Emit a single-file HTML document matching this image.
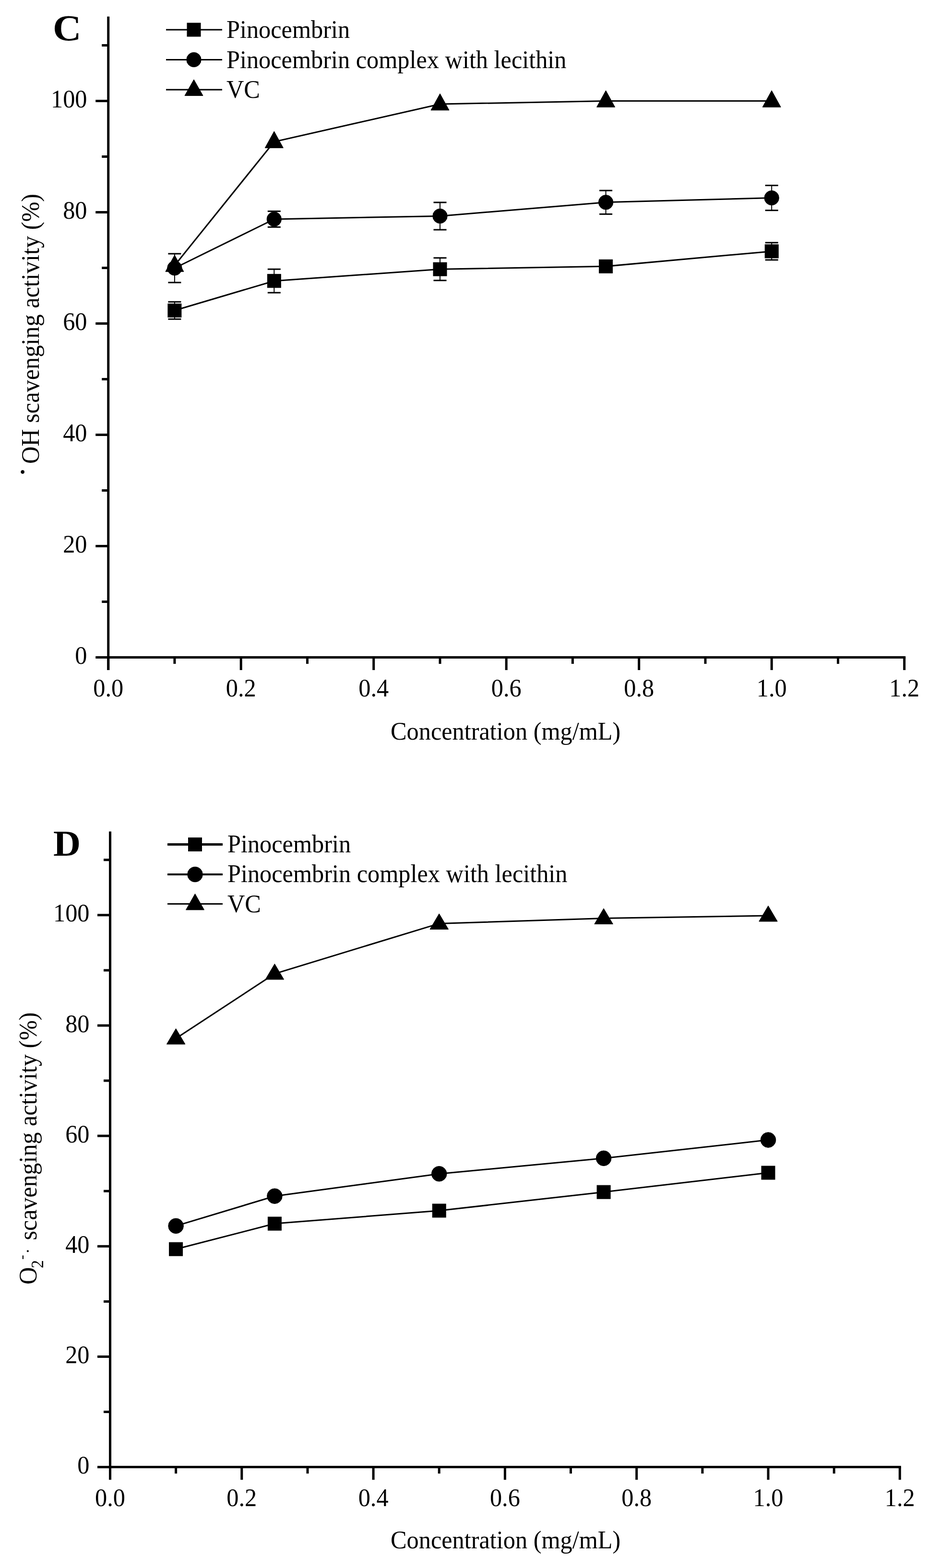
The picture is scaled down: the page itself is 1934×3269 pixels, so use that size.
<!DOCTYPE html>
<html><head><meta charset="utf-8"><title>Scavenging activity charts</title>
<style>
html,body{margin:0;padding:0;background:#fff;}
svg{display:block;}
text{font-family:'Liberation Serif', 'Times New Roman', serif;fill:#000;stroke:none;}
</style></head>
<body>
<svg width="1934" height="3269" viewBox="0 0 1934 3269">
<rect width="1934" height="3269" fill="#fff"/>
<g stroke="#000" fill="#000">
<line x1="225.7" y1="34.5" x2="225.7" y2="1397.0" stroke-width="5"/>
<line x1="223.2" y1="1370.5" x2="1887.2" y2="1370.5" stroke-width="5"/>
<line x1="199.2" y1="1370.5" x2="225.7" y2="1370.5" stroke-width="5"/>
<text transform="translate(181.5,1383.5) scale(0.968,1)" text-anchor="end" font-size="52" font-weight="normal">0</text>
<line x1="212.2" y1="1254.5" x2="225.7" y2="1254.5" stroke-width="5"/>
<line x1="199.2" y1="1138.5" x2="225.7" y2="1138.5" stroke-width="5"/>
<text transform="translate(181.5,1151.5) scale(0.968,1)" text-anchor="end" font-size="52" font-weight="normal">20</text>
<line x1="212.2" y1="1022.5" x2="225.7" y2="1022.5" stroke-width="5"/>
<line x1="199.2" y1="906.5" x2="225.7" y2="906.5" stroke-width="5"/>
<text transform="translate(181.5,919.5) scale(0.968,1)" text-anchor="end" font-size="52" font-weight="normal">40</text>
<line x1="212.2" y1="790.5" x2="225.7" y2="790.5" stroke-width="5"/>
<line x1="199.2" y1="674.5" x2="225.7" y2="674.5" stroke-width="5"/>
<text transform="translate(181.5,687.5) scale(0.968,1)" text-anchor="end" font-size="52" font-weight="normal">60</text>
<line x1="212.2" y1="558.5" x2="225.7" y2="558.5" stroke-width="5"/>
<line x1="199.2" y1="442.5" x2="225.7" y2="442.5" stroke-width="5"/>
<text transform="translate(181.5,455.5) scale(0.968,1)" text-anchor="end" font-size="52" font-weight="normal">80</text>
<line x1="212.2" y1="326.5" x2="225.7" y2="326.5" stroke-width="5"/>
<line x1="199.2" y1="210.5" x2="225.7" y2="210.5" stroke-width="5"/>
<text transform="translate(181.5,223.5) scale(0.968,1)" text-anchor="end" font-size="52" font-weight="normal">100</text>
<line x1="212.2" y1="94.5" x2="225.7" y2="94.5" stroke-width="5"/>
<line x1="225.7" y1="1370.5" x2="225.7" y2="1397.0" stroke-width="5"/>
<text transform="translate(225.7,1452.0) scale(0.968,1)" text-anchor="middle" font-size="52" font-weight="normal">0.0</text>
<line x1="363.9" y1="1370.5" x2="363.9" y2="1384.0" stroke-width="5"/>
<line x1="502.2" y1="1370.5" x2="502.2" y2="1397.0" stroke-width="5"/>
<text transform="translate(502.2,1452.0) scale(0.968,1)" text-anchor="middle" font-size="52" font-weight="normal">0.2</text>
<line x1="640.5" y1="1370.5" x2="640.5" y2="1384.0" stroke-width="5"/>
<line x1="778.7" y1="1370.5" x2="778.7" y2="1397.0" stroke-width="5"/>
<text transform="translate(778.7,1452.0) scale(0.968,1)" text-anchor="middle" font-size="52" font-weight="normal">0.4</text>
<line x1="917.0" y1="1370.5" x2="917.0" y2="1384.0" stroke-width="5"/>
<line x1="1055.2" y1="1370.5" x2="1055.2" y2="1397.0" stroke-width="5"/>
<text transform="translate(1055.2,1452.0) scale(0.968,1)" text-anchor="middle" font-size="52" font-weight="normal">0.6</text>
<line x1="1193.4" y1="1370.5" x2="1193.4" y2="1384.0" stroke-width="5"/>
<line x1="1331.7" y1="1370.5" x2="1331.7" y2="1397.0" stroke-width="5"/>
<text transform="translate(1331.7,1452.0) scale(0.968,1)" text-anchor="middle" font-size="52" font-weight="normal">0.8</text>
<line x1="1470.0" y1="1370.5" x2="1470.0" y2="1384.0" stroke-width="5"/>
<line x1="1608.2" y1="1370.5" x2="1608.2" y2="1397.0" stroke-width="5"/>
<text transform="translate(1608.2,1452.0) scale(0.968,1)" text-anchor="middle" font-size="52" font-weight="normal">1.0</text>
<line x1="1746.5" y1="1370.5" x2="1746.5" y2="1384.0" stroke-width="5"/>
<line x1="1884.7" y1="1370.5" x2="1884.7" y2="1397.0" stroke-width="5"/>
<text transform="translate(1884.7,1452.0) scale(0.968,1)" text-anchor="middle" font-size="52" font-weight="normal">1.2</text>
<text transform="translate(814.0,1542.0) scale(0.968,1)" text-anchor="start" font-size="52" font-weight="normal">Concentration (mg/mL)</text>
<polyline points="363.9,647.3 571.3,585.7 917.0,561.2 1262.6,555.3 1608.2,523.9" fill="none" stroke-width="3"/>
<polyline points="363.9,559.0 571.3,456.9 917.0,450.5 1262.6,421.8 1608.2,412.6" fill="none" stroke-width="3"/>
<polyline points="363.9,553.5 571.3,295.5 917.0,217.0 1262.6,210.5 1608.2,210.5" fill="none" stroke-width="3"/>
<line x1="363.9" y1="629.3" x2="363.9" y2="665.3" stroke-width="2"/>
<line x1="350.4" y1="629.3" x2="377.4" y2="629.3" stroke-width="3"/>
<line x1="350.4" y1="665.3" x2="377.4" y2="665.3" stroke-width="3"/>
<line x1="571.3" y1="561.2" x2="571.3" y2="610.2" stroke-width="2"/>
<line x1="557.8" y1="561.2" x2="584.8" y2="561.2" stroke-width="3"/>
<line x1="557.8" y1="610.2" x2="584.8" y2="610.2" stroke-width="3"/>
<line x1="917.0" y1="537.7" x2="917.0" y2="584.7" stroke-width="2"/>
<line x1="903.5" y1="537.7" x2="930.5" y2="537.7" stroke-width="3"/>
<line x1="903.5" y1="584.7" x2="930.5" y2="584.7" stroke-width="3"/>
<line x1="1608.2" y1="505.9" x2="1608.2" y2="541.9" stroke-width="2"/>
<line x1="1594.7" y1="505.9" x2="1621.7" y2="505.9" stroke-width="3"/>
<line x1="1594.7" y1="541.9" x2="1621.7" y2="541.9" stroke-width="3"/>
<line x1="363.9" y1="529.0" x2="363.9" y2="589.0" stroke-width="2"/>
<line x1="350.4" y1="529.0" x2="377.4" y2="529.0" stroke-width="3"/>
<line x1="350.4" y1="589.0" x2="377.4" y2="589.0" stroke-width="3"/>
<line x1="571.3" y1="440.4" x2="571.3" y2="473.4" stroke-width="2"/>
<line x1="557.8" y1="440.4" x2="584.8" y2="440.4" stroke-width="3"/>
<line x1="557.8" y1="473.4" x2="584.8" y2="473.4" stroke-width="3"/>
<line x1="917.0" y1="422.0" x2="917.0" y2="479.0" stroke-width="2"/>
<line x1="903.5" y1="422.0" x2="930.5" y2="422.0" stroke-width="3"/>
<line x1="903.5" y1="479.0" x2="930.5" y2="479.0" stroke-width="3"/>
<line x1="1262.6" y1="397.2" x2="1262.6" y2="446.4" stroke-width="2"/>
<line x1="1249.1" y1="397.2" x2="1276.1" y2="397.2" stroke-width="3"/>
<line x1="1249.1" y1="446.4" x2="1276.1" y2="446.4" stroke-width="3"/>
<line x1="1608.2" y1="386.6" x2="1608.2" y2="438.6" stroke-width="2"/>
<line x1="1594.7" y1="386.6" x2="1621.7" y2="386.6" stroke-width="3"/>
<line x1="1594.7" y1="438.6" x2="1621.7" y2="438.6" stroke-width="3"/>
<rect x="349.9" y="633.3" width="28" height="28"/>
<rect x="557.3" y="571.7" width="28" height="28"/>
<rect x="903.0" y="547.2" width="28" height="28"/>
<rect x="1248.6" y="541.3" width="28" height="28"/>
<rect x="1594.2" y="509.9" width="28" height="28"/>
<circle cx="363.9" cy="559.0" r="15.2"/>
<circle cx="571.3" cy="456.9" r="15.2"/>
<circle cx="917.0" cy="450.5" r="15.2"/>
<circle cx="1262.6" cy="421.8" r="15.2"/>
<circle cx="1608.2" cy="412.6" r="15.2"/>
<path d="M363.9 531.8 L382.9 566.3 L344.9 566.3 Z"/>
<path d="M571.3 273.8 L590.3 308.3 L552.3 308.3 Z"/>
<path d="M917.0 195.3 L936.0 229.8 L898.0 229.8 Z"/>
<path d="M1262.6 188.8 L1281.6 223.3 L1243.6 223.3 Z"/>
<path d="M1608.2 188.8 L1627.2 223.3 L1589.2 223.3 Z"/>
<line x1="346.0" y1="62.0" x2="463.0" y2="62.0" stroke-width="3"/>
<rect x="390.0" y="48.0" width="28" height="28"/>
<line x1="346.0" y1="124.5" x2="463.0" y2="124.5" stroke-width="3"/>
<circle cx="404.0" cy="124.5" r="15.2"/>
<line x1="346.0" y1="187.0" x2="463.0" y2="187.0" stroke-width="3"/>
<path d="M404.0 165.9 L423.0 199.4 L385.0 199.4 Z"/>
<text transform="translate(472.0,79.0) scale(0.968,1)" text-anchor="start" font-size="52" font-weight="normal">Pinocembrin</text>
<text transform="translate(472.0,142.0) scale(0.968,1)" text-anchor="start" font-size="52" font-weight="normal">Pinocembrin complex with lecithin</text>
<text transform="translate(472.0,204.0) scale(0.968,1)" text-anchor="start" font-size="52" font-weight="normal">VC</text>
<text transform="translate(110.0,83.7) scale(1.085,1)" text-anchor="start" font-size="76" font-weight="bold">C</text>
<line x1="229.5" y1="1733.4" x2="229.5" y2="3085.1" stroke-width="5"/>
<line x1="227.0" y1="3058.6" x2="1877.8" y2="3058.6" stroke-width="5"/>
<line x1="203.0" y1="3058.6" x2="229.5" y2="3058.6" stroke-width="5"/>
<text transform="translate(186.5,3072.1) scale(0.968,1)" text-anchor="end" font-size="52" font-weight="normal">0</text>
<line x1="216.0" y1="2943.5" x2="229.5" y2="2943.5" stroke-width="5"/>
<line x1="203.0" y1="2828.4" x2="229.5" y2="2828.4" stroke-width="5"/>
<text transform="translate(186.5,2841.9) scale(0.968,1)" text-anchor="end" font-size="52" font-weight="normal">20</text>
<line x1="216.0" y1="2713.4" x2="229.5" y2="2713.4" stroke-width="5"/>
<line x1="203.0" y1="2598.3" x2="229.5" y2="2598.3" stroke-width="5"/>
<text transform="translate(186.5,2611.8) scale(0.968,1)" text-anchor="end" font-size="52" font-weight="normal">40</text>
<line x1="216.0" y1="2483.2" x2="229.5" y2="2483.2" stroke-width="5"/>
<line x1="203.0" y1="2368.1" x2="229.5" y2="2368.1" stroke-width="5"/>
<text transform="translate(186.5,2381.6) scale(0.968,1)" text-anchor="end" font-size="52" font-weight="normal">60</text>
<line x1="216.0" y1="2253.0" x2="229.5" y2="2253.0" stroke-width="5"/>
<line x1="203.0" y1="2138.0" x2="229.5" y2="2138.0" stroke-width="5"/>
<text transform="translate(186.5,2151.5) scale(0.968,1)" text-anchor="end" font-size="52" font-weight="normal">80</text>
<line x1="216.0" y1="2022.9" x2="229.5" y2="2022.9" stroke-width="5"/>
<line x1="203.0" y1="1907.8" x2="229.5" y2="1907.8" stroke-width="5"/>
<text transform="translate(186.5,1921.3) scale(0.968,1)" text-anchor="end" font-size="52" font-weight="normal">100</text>
<line x1="216.0" y1="1792.7" x2="229.5" y2="1792.7" stroke-width="5"/>
<line x1="229.5" y1="3058.6" x2="229.5" y2="3085.1" stroke-width="5"/>
<text transform="translate(229.5,3140.0) scale(0.968,1)" text-anchor="middle" font-size="52" font-weight="normal">0.0</text>
<line x1="366.6" y1="3058.6" x2="366.6" y2="3072.1" stroke-width="5"/>
<line x1="503.8" y1="3058.6" x2="503.8" y2="3085.1" stroke-width="5"/>
<text transform="translate(503.8,3140.0) scale(0.968,1)" text-anchor="middle" font-size="52" font-weight="normal">0.2</text>
<line x1="641.0" y1="3058.6" x2="641.0" y2="3072.1" stroke-width="5"/>
<line x1="778.1" y1="3058.6" x2="778.1" y2="3085.1" stroke-width="5"/>
<text transform="translate(778.1,3140.0) scale(0.968,1)" text-anchor="middle" font-size="52" font-weight="normal">0.4</text>
<line x1="915.2" y1="3058.6" x2="915.2" y2="3072.1" stroke-width="5"/>
<line x1="1052.4" y1="3058.6" x2="1052.4" y2="3085.1" stroke-width="5"/>
<text transform="translate(1052.4,3140.0) scale(0.968,1)" text-anchor="middle" font-size="52" font-weight="normal">0.6</text>
<line x1="1189.5" y1="3058.6" x2="1189.5" y2="3072.1" stroke-width="5"/>
<line x1="1326.7" y1="3058.6" x2="1326.7" y2="3085.1" stroke-width="5"/>
<text transform="translate(1326.7,3140.0) scale(0.968,1)" text-anchor="middle" font-size="52" font-weight="normal">0.8</text>
<line x1="1463.9" y1="3058.6" x2="1463.9" y2="3072.1" stroke-width="5"/>
<line x1="1601.0" y1="3058.6" x2="1601.0" y2="3085.1" stroke-width="5"/>
<text transform="translate(1601.0,3140.0) scale(0.968,1)" text-anchor="middle" font-size="52" font-weight="normal">1.0</text>
<line x1="1738.2" y1="3058.6" x2="1738.2" y2="3072.1" stroke-width="5"/>
<line x1="1875.3" y1="3058.6" x2="1875.3" y2="3085.1" stroke-width="5"/>
<text transform="translate(1875.3,3140.0) scale(0.968,1)" text-anchor="middle" font-size="52" font-weight="normal">1.2</text>
<text transform="translate(814.0,3227.5) scale(0.968,1)" text-anchor="start" font-size="52" font-weight="normal">Concentration (mg/mL)</text>
<polyline points="366.6,2604.2 572.4,2551.1 915.2,2524.0 1258.1,2485.2 1601.0,2445.0" fill="none" stroke-width="3"/>
<polyline points="366.6,2555.9 572.4,2493.7 915.2,2447.2 1258.1,2414.8 1601.0,2376.6" fill="none" stroke-width="3"/>
<polyline points="366.6,2165.0 572.4,2030.0 915.2,1925.4 1258.1,1914.5 1601.0,1909.0" fill="none" stroke-width="3"/>
<rect x="352.6" y="2590.2" width="28" height="28"/>
<rect x="558.4" y="2537.1" width="28" height="28"/>
<rect x="901.2" y="2510.0" width="28" height="28"/>
<rect x="1244.1" y="2471.2" width="28" height="28"/>
<rect x="1587.0" y="2431.0" width="28" height="28"/>
<circle cx="366.6" cy="2555.9" r="15.8"/>
<circle cx="572.4" cy="2493.7" r="15.8"/>
<circle cx="915.2" cy="2447.2" r="15.8"/>
<circle cx="1258.1" cy="2414.8" r="15.8"/>
<circle cx="1601.0" cy="2376.6" r="15.8"/>
<path d="M366.6 2144.5 L385.9 2177.0 L347.4 2177.0 Z"/>
<path d="M572.4 2009.5 L591.6 2042.0 L553.1 2042.0 Z"/>
<path d="M915.2 1904.9 L934.5 1937.4 L896.0 1937.4 Z"/>
<path d="M1258.1 1894.0 L1277.4 1926.5 L1238.9 1926.5 Z"/>
<path d="M1601.0 1888.5 L1620.2 1921.0 L1581.8 1921.0 Z"/>
<line x1="349.0" y1="1760.5" x2="464.0" y2="1760.5" stroke-width="5"/>
<rect x="392.5" y="1746.5" width="28" height="28"/>
<line x1="349.0" y1="1823.0" x2="464.0" y2="1823.0" stroke-width="4"/>
<circle cx="406.5" cy="1823.0" r="15.8"/>
<line x1="349.0" y1="1884.5" x2="464.0" y2="1884.5" stroke-width="3"/>
<path d="M406.5 1863.4 L425.5 1896.9 L387.5 1896.9 Z"/>
<text transform="translate(474.0,1776.5) scale(0.968,1)" text-anchor="start" font-size="52" font-weight="normal">Pinocembrin</text>
<text transform="translate(474.0,1839.0) scale(0.968,1)" text-anchor="start" font-size="52" font-weight="normal">Pinocembrin complex with lecithin</text>
<text transform="translate(474.0,1902.0) scale(0.968,1)" text-anchor="start" font-size="52" font-weight="normal">VC</text>
<text transform="translate(111.0,1784.3) scale(1.04,1)" text-anchor="start" font-size="76" font-weight="bold">D</text>
</g>
<text transform="translate(80.5,967) rotate(-90) scale(0.968,1)" font-size="52">OH scavenging activity (%)</text>
<text transform="translate(80.5,967) rotate(-90)" x="-28.1" y="-11.8" font-size="66">&#183;</text>
<g transform="translate(76,2678) rotate(-90) scale(0.968,1)" font-size="52">
<text x="0" y="0">O</text>
<text x="35.1" y="14" font-size="35">2</text>
<text x="53.7" y="-21" font-size="30">-</text>
<text x="66.1" y="-6" font-size="35">&#183;</text>
<text x="96.1" y="0" transform="scale(0.994,1)">scavenging activity (%)</text>
</g>
</svg>
</body></html>
